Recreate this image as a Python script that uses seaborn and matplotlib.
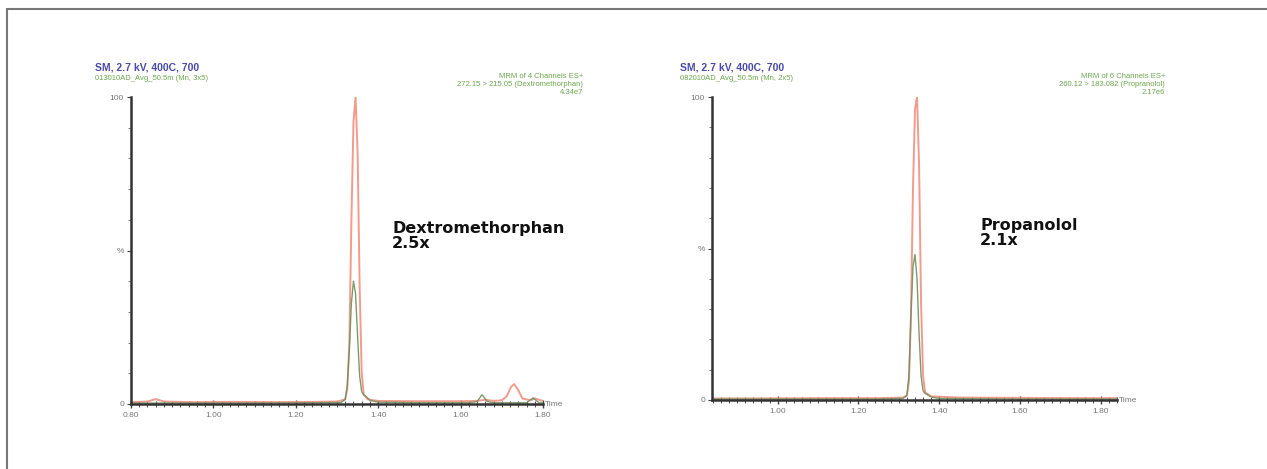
import matplotlib
matplotlib.use("Agg")
import matplotlib.pyplot as plt
import seaborn as sns
import pandas as pd
from matplotlib.lines import Line2D
from matplotlib.ticker import MultipleLocator

sns.set_style("white")
plt.rcParams['font.family'] = ['Liberation Sans', 'DejaVu Sans']

# ---------------- data ----------------
# Left panel: Dextromethorphan
left_red_x = [0.80, 0.84, 0.86, 0.88, 0.95, 1.05, 1.15, 1.25, 1.30, 1.32, 1.325, 1.33, 1.335, 1.34, 1.345,
              1.35, 1.355, 1.36, 1.365, 1.375, 1.40, 1.50, 1.60, 1.64, 1.66, 1.68, 1.70, 1.712, 1.722, 1.73,
              1.74, 1.75, 1.77, 1.78, 1.80, 1.82]
left_red_y = [0.6, 0.8, 1.6, 0.8, 0.6, 0.7, 0.6, 0.7, 0.8, 1.5, 5, 20, 60, 92, 100,
              82, 38, 10, 3, 1.5, 1.0, 0.9, 0.9, 1.0, 1.4, 1.0, 1.2, 2.5, 5.5, 6.5,
              4.5, 1.8, 1.2, 1.8, 1.0, 0.8]
left_green_x = [0.80, 0.95, 1.10, 1.25, 1.31, 1.32, 1.325, 1.33, 1.335, 1.34, 1.345, 1.35, 1.355, 1.36, 1.365,
                1.37, 1.38, 1.40, 1.50, 1.62, 1.64, 1.652, 1.665, 1.68, 1.76, 1.776, 1.79, 1.82]
left_green_y = [0.3, 0.3, 0.3, 0.4, 0.5, 1.5, 6, 18, 33, 40, 36, 22, 9, 4, 3,
                2.5, 1.2, 0.6, 0.4, 0.4, 0.8, 3.0, 0.8, 0.4, 0.4, 2.0, 0.4, 0.3]

# Right panel: Propanolol
right_red_x = [0.84, 0.95, 1.10, 1.25, 1.31, 1.32, 1.325, 1.33, 1.335, 1.34, 1.345, 1.35, 1.355, 1.36, 1.365,
               1.38, 1.45, 1.60, 1.75, 1.84]
right_red_y = [0.5, 0.5, 0.6, 0.6, 0.8, 1.5, 6, 28, 70, 96, 100, 78, 32, 8, 2.5,
               1.2, 0.8, 0.7, 0.6, 0.6]
right_green_x = [0.84, 0.95, 1.10, 1.25, 1.31, 1.32, 1.325, 1.33, 1.335, 1.34, 1.345, 1.35, 1.355, 1.36, 1.365,
                 1.37, 1.38, 1.40, 1.60, 1.84]
right_green_y = [0.3, 0.3, 0.3, 0.3, 0.5, 1.5, 8, 28, 44, 48, 40, 22, 8, 3, 2.2,
                 1.8, 1.0, 0.5, 0.3, 0.3]

left_ticks = [0.80, 1.00, 1.20, 1.40, 1.60, 1.80]
left_ticklabels = ["0.80", "1.00", "1.20", "1.40", "1.60", "1.80"]
right_ticks = [1.00, 1.20, 1.40, 1.60, 1.80]
right_ticklabels = ["1.00", "1.20", "1.40", "1.60", "1.80"]

left_header = ["SM, 2.7 kV, 400C, 700", "013010AD_Avg_50.5m (Mn, 3x5)"]
left_info = ["MRM of 4 Channels ES+", "272.15 > 215.05 (Dextromethorphan)", "4.34e7"]
left_label = "Dextromethorphan\n2.5x"
right_header = ["SM, 2.7 kV, 400C, 700", "082010AD_Avg_50.5m (Mn, 2x5)"]
right_info = ["MRM of 6 Channels ES+", "260.12 > 183.082 (Propranolol)", "2.17e6"]
right_label = "Propanolol\n2.1x"

RED = "#f08a78"
GREEN = "#6f8f5f"
BLUE = "#4a4aa8"
TXTGREEN = "#6aa84f"

W, H = 1267, 469
fig = plt.figure(figsize=(W / 100, H / 100), dpi=100)

# frame around figure
fig.add_artist(Line2D([7 / W, 7 / W], [0, 1 - 9 / H], color="#777777", lw=1.5, transform=fig.transFigure))
fig.add_artist(Line2D([7 / W, 1], [1 - 9 / H, 1 - 9 / H], color="#777777", lw=1.5, transform=fig.transFigure))


def px_axes(x0, x1, ytop, ybot):
    return fig.add_axes([x0 / W, 1 - ybot / H, (x1 - x0) / W, (ybot - ytop) / H])


def draw_panel(ax, rx, ry, gx, gy, xlim, ticks, ticklabels):
    dr = pd.DataFrame({"t": rx, "v": ry})
    dg = pd.DataFrame({"t": gx, "v": gy})
    sns.lineplot(data=dr, x="t", y="v", ax=ax, color=RED, lw=1.4, alpha=0.85)
    sns.lineplot(data=dg, x="t", y="v", ax=ax, color=GREEN, lw=1.0, alpha=0.9)
    ax.set_xlim(*xlim)
    ax.set_ylim(0, 100)
    ax.set_xlabel("")
    ax.set_ylabel("")
    for s in ["top", "right"]:
        ax.spines[s].set_visible(False)
    for s in ["left", "bottom"]:
        ax.spines[s].set_color("#333333")
        ax.spines[s].set_linewidth(1.8)
    ax.set_xticks(ticks)
    ax.set_xticklabels(ticklabels, fontsize=6, color="#777777")
    ax.xaxis.set_minor_locator(MultipleLocator(0.02))
    ax.tick_params(axis="x", which="major", direction="inout", length=6, width=1, color="#444444", pad=3,
                   bottom=True)
    ax.tick_params(axis="x", which="minor", direction="inout", length=4, width=0.8, color="#555555",
                   bottom=True)
    ax.set_yticks([0, 50, 100])
    ax.set_yticklabels(["0", "%", "100"], fontsize=6, color="#777777")
    ax.yaxis.set_minor_locator(MultipleLocator(10))
    ax.tick_params(axis="y", which="major", direction="out", length=3, width=0.8, color="#444444", pad=2,
                   left=True)
    ax.tick_params(axis="y", which="minor", direction="out", length=2, width=0.6, color="#666666", left=True)
    ax.patch.set_alpha(0)
    ax.grid(False)
    ax.text(1.005, 0.0, "Time", transform=ax.transAxes, fontsize=6, color="#777777", va="center", ha="left")


axL = px_axes(131, 543, 97, 404)
draw_panel(axL, left_red_x, left_red_y, left_green_x, left_green_y, (0.80, 1.80), left_ticks, left_ticklabels)
axR = px_axes(712, 1117, 97, 400)
draw_panel(axR, right_red_x, right_red_y, right_green_x, right_green_y, (0.8375, 1.84), right_ticks,
           right_ticklabels)

# headers
def header(x, y, lines):
    fig.text(x / W, 1 - y / H, lines[0], fontsize=7.5, fontweight="bold", color=BLUE, va="center", ha="left")
    fig.text(x / W, 1 - (y + 10) / H, lines[1], fontsize=5.5, color=TXTGREEN, va="center", ha="left")


def info(x, y, lines):
    for i, l in enumerate(lines):
        fig.text(x / W, 1 - (y + 8 * i) / H, l, fontsize=5.5, color=TXTGREEN, va="center", ha="right")


header(95, 68, left_header)
header(680, 68, right_header)
info(583, 77, left_info)
info(1165, 77, right_info)

fig.text(392 / W, 1 - 236 / H, left_label, fontsize=11.5, fontweight="bold", color="#111111",
         va="center", ha="left", linespacing=0.95, family="DejaVu Sans")
fig.text(980 / W, 1 - 233 / H, right_label, fontsize=11.5, fontweight="bold", color="#111111",
         va="center", ha="left", linespacing=0.95, family="DejaVu Sans")

fig.savefig("out.png", dpi=100, facecolor="white")
